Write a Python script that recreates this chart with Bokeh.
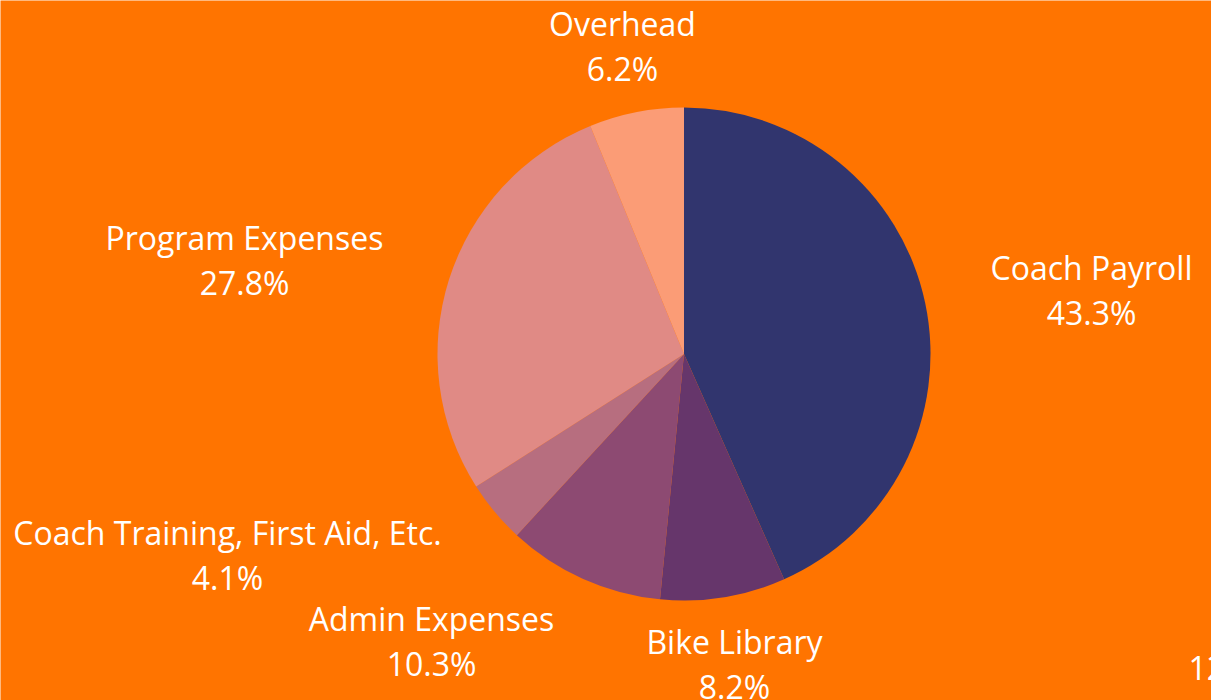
import math
from bokeh.plotting import figure
from bokeh.models import ColumnDataSource, Range1d
from bokeh.core.properties import value
from bokeh.embed import file_html
from bokeh.resources import INLINE

# ---- data ----
categories = ["Coach Payroll", "Bike Library", "Admin Expenses",
              "Coach Training, First Aid, Etc.", "Program Expenses", "Overhead"]
shares = [43.3, 8.2, 10.3, 4.1, 27.8, 6.2]
colors = ["#31356E", "#66366B", "#8D4A72", "#B76E7F", "#E08A85", "#FB9C76"]

# ---- layout (pixels) ----
W, H = 1211, 700
BG = "#FF7400"
CX, CY, R = 683.5, 346.5, 246.5
# label anchor offsets from pie center (dx, dy up), pixels
label_offsets = [(407.5, 64.5), (50.5, -310), (-252.5, -287),
                 (-456.5, -201), (-439.5, 94), (-61.5, 308)]
LINE_GAP = 45
FONT = "Open Sans"
FSIZE = "32px"

total = sum(shares)
starts, ends = [], []
a = math.pi / 2
for v in shares:
    sweep = 2 * math.pi * v / total
    starts.append(a - sweep)
    ends.append(a)
    a -= sweep

src = ColumnDataSource(dict(x=[CX] * len(shares), y=[CY] * len(shares),
                            start=starts, end=ends, color=colors))

p = figure(width=W, height=H, x_range=Range1d(0, W), y_range=Range1d(0, H),
           output_backend="svg", toolbar_location=None, min_border=0)
p.axis.visible = False
p.grid.visible = False
p.outline_line_color = None
p.background_fill_color = BG
p.border_fill_color = BG

p.wedge(x="x", y="y", radius=R, start_angle="start", end_angle="end",
        fill_color="color", line_color=None, source=src)

lx = [CX + dx for dx, dy in label_offsets]
ly = [CY + dy for dx, dy in label_offsets]
names_src = ColumnDataSource(dict(x=lx, y=[y + LINE_GAP / 2 for y in ly], t=categories))
pct_src = ColumnDataSource(dict(x=lx, y=[y - LINE_GAP / 2 for y in ly],
                                t=[f"{v:.1f}%" for v in shares]))
for s in (names_src, pct_src):
    p.text(x="x", y="y", text="t", source=s, text_color="white",
           text_font=value(FONT), text_font_size=FSIZE,
           text_align="center", text_baseline="middle")

# partially visible stray text at lower right
p.text(x=[1188], y=[33], text=["12"], text_color="white",
       text_font=value(FONT), text_font_size=FSIZE,
       text_align="left", text_baseline="middle")

open("out.html", "w").write(file_html(p, INLINE))
